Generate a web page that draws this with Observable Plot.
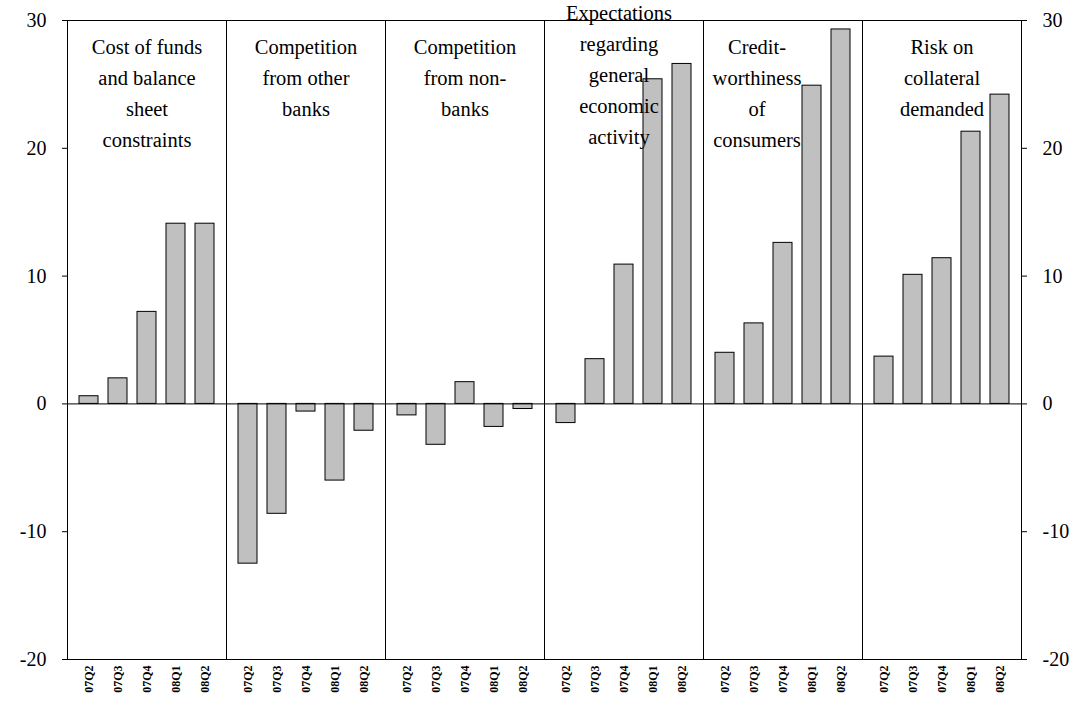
<!DOCTYPE html>
<html><head><meta charset="utf-8">
<script src="https://cdn.jsdelivr.net/npm/d3@7"></script>
<script src="https://cdn.jsdelivr.net/npm/@observablehq/plot@0.6"></script>
<style>body{margin:0;background:#fff}</style>
</head><body><div id="plot"></div>
<script>
const groups = ["Cost of funds\nand balance\nsheet\nconstraints", "Competition\nfrom other\nbanks", "Competition\nfrom non-\nbanks",
  "Expectations\nregarding\ngeneral\neconomic\nactivity", "Credit-\nworthiness\nof\nconsumers", "Risk on\ncollateral\ndemanded"];
const quarters = ["07Q2", "07Q3", "07Q4", "08Q1", "08Q2"];
const values = [
  [0.6, 2.0, 7.2, 14.1, 14.1],
  [-12.5, -8.6, -0.6, -6.0, -2.1],
  [-0.9, -3.2, 1.7, -1.8, -0.4],
  [-1.5, 3.5, 10.9, 25.4, 26.6],
  [4.0, 6.3, 12.6, 24.9, 29.3],
  [3.7, 10.1, 11.4, 21.3, 24.2]
];
const yTicks = [-20, -10, 0, 10, 20, 30];

const data = [];
groups.forEach((g, i) => quarters.forEach((q, j) => data.push({g, q, v: values[i][j]})));
const normal = [groups[0], groups[1], groups[2], groups[5]];
const labelText = (arr, dx, dy) => Plot.text(arr, {fx: d => d, text: d => d, frameAnchor: "top", dx, dy, fontSize: 20.5, lineHeight: 1.52});

const plot = Plot.plot({
  width: 1083, height: 711,
  marginLeft: 66, marginRight: 61, marginTop: 20, marginBottom: 52,
  style: {fontFamily: "Liberation Serif", fontSize: "20px", color: "#000"},
  fx: {domain: groups, axis: null, padding: 0},
  x: {domain: quarters, padding: 0.35, label: null},
  y: {domain: [-20, 30], label: null},
  marks: [
    Plot.barY(data, {fx: "g", x: "q", y: "v", fill: "#c0c0c0", stroke: "#000", strokeWidth: 1}),
    Plot.ruleY([0], {stroke: "#000"}),
    Plot.frame({anchor: "left", stroke: "#000"}),
    Plot.frame({stroke: "#000", facet: "super"}),
    labelText(normal, 0, 11),
    labelText([groups[3]], -5, -23),
    labelText([groups[4]], -26, 11),
    Plot.axisX({tickRotate: -90, tickSize: 0, fontWeight: "bold", fontSize: 12, tickPadding: 6, label: null}),
    Plot.axisY({anchor: "left", ticks: yTicks, tickFormat: d => String(d), tickSize: 5, tickPadding: 16, fontSize: 20, label: null}),
    Plot.axisY({anchor: "right", ticks: yTicks, tickFormat: d => String(d), tickSize: 5, tickPadding: 16, fontSize: 20, label: null})
  ]
});
document.getElementById("plot").appendChild(plot);
</script></body></html>
